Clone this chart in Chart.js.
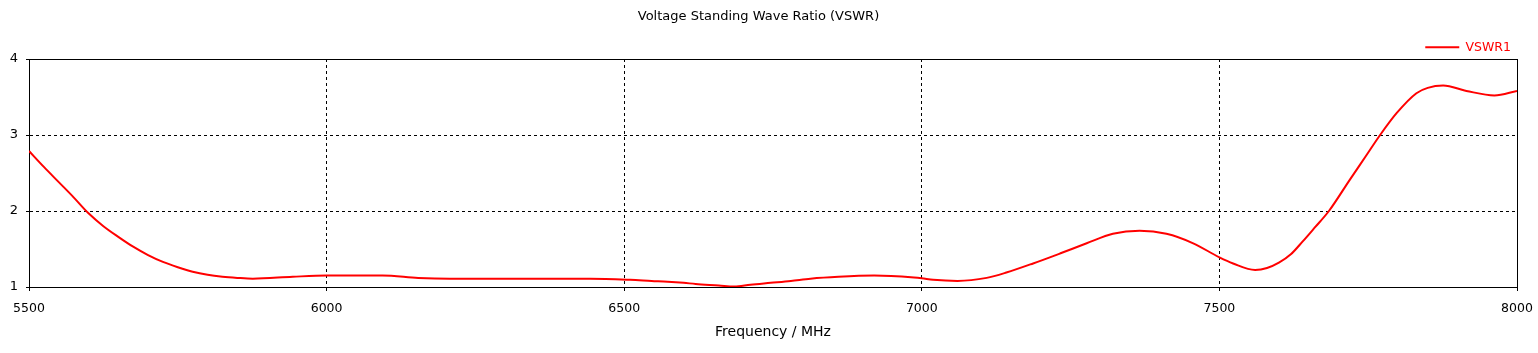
<!DOCTYPE html>
<html>
<head>
<meta charset="utf-8">
<script src="https://cdn.jsdelivr.net/npm/chart.js@4/dist/chart.umd.min.js"></script>
<style>
  html, body { margin: 0; padding: 0; background: #fff; }
  #wrap { width: 1538px; height: 353px; }
</style>
</head>
<body>
<div id="wrap"><canvas id="vswr"></canvas></div>
<script>
// frequency points (MHz)
const frequencies = [
  5500, 5525, 5550, 5575, 5600, 5625, 5650, 5675, 5700, 5725, 5750, 5775, 5800,
  5825, 5850, 5876, 5943, 6000, 6094, 6154, 6207, 6390, 6443, 6510, 6546, 6573,
  6600, 6620, 6659, 6685, 6712, 6746, 6780, 6813, 6860, 6920, 6987, 7000, 7019,
  7060, 7109, 7142, 7187, 7232, 7277, 7321, 7366, 7411, 7456, 7500, 7523, 7560,
  7580, 7600, 7620, 7640, 7660, 7684, 7719, 7745, 7770, 7798, 7831, 7850, 7876,
  7915, 7962, 8000
];
const vswr1 = [
  2.79, 2.58, 2.38, 2.18, 1.97, 1.80, 1.66, 1.53, 1.42, 1.33, 1.26, 1.20, 1.16,
  1.135, 1.12, 1.11, 1.135, 1.15, 1.15, 1.12, 1.11, 1.11, 1.11, 1.095, 1.08, 1.07,
  1.055, 1.04, 1.02, 1.005, 1.03, 1.055, 1.08, 1.11, 1.135, 1.15, 1.125, 1.115, 1.095,
  1.08, 1.12, 1.19, 1.31, 1.44, 1.575, 1.70, 1.74, 1.70, 1.575, 1.39, 1.31, 1.225,
  1.25, 1.32, 1.43, 1.60, 1.78, 2.00, 2.41, 2.71, 3.00, 3.29, 3.55, 3.62, 3.65,
  3.58, 3.52, 3.58
];
const xTicks = [5500, 6000, 6500, 7000, 7500, 8000];
const yTicks = [1, 2, 3, 4];

Chart.defaults.font.family = "'DejaVu Sans', sans-serif";
Chart.defaults.font.size = 12;
Chart.defaults.color = '#000';

// closed box round the plot area
const frame = {
  id: 'frame',
  beforeDatasetsDraw(chart) {
    const { ctx, chartArea: a } = chart;
    ctx.save();
    ctx.strokeStyle = '#000';
    ctx.lineWidth = 1;
    ctx.strokeRect(a.left + 0.5, a.top + 0.5, a.right - a.left, a.bottom - a.top);
    ctx.restore();
  }
};

const edgeColor = (min, max) => (c) =>
  (c.tick && (c.tick.value === min || c.tick.value === max)) ? 'rgba(0,0,0,0)' : '#000';

new Chart(document.getElementById('vswr'), {
  type: 'line',
  data: {
    datasets: [{
      label: 'VSWR1',
      data: frequencies.map((f, i) => ({ x: f, y: vswr1[i] })),
      borderColor: '#ff0000',
      backgroundColor: '#ff0000',
      borderWidth: 2,
      pointRadius: 0,
      cubicInterpolationMode: 'monotone',
      fill: false
    }]
  },
  options: {
    responsive: true,
    maintainAspectRatio: false,
    animation: false,
    layout: { padding: { left: 0, right: 21, top: 0, bottom: 0 } },
    plugins: {
      title: {
        display: true,
        text: 'Voltage Standing Wave Ratio (VSWR)',
        color: '#000',
        font: { weight: 'normal', size: 13 },
        padding: { top: 9, bottom: 10.4 }
      },
      legend: {
        display: true,
        position: 'top',
        align: 'end',
        maxHeight: 24,
        labels: {
          color: '#ff0000',
          font: { size: 12.5 },
          boxWidth: 34,
          boxHeight: 2,
          padding: 6,
          generateLabels: (chart) => chart.data.datasets.map((ds, i) => ({
            text: ds.label,
            fillStyle: ds.borderColor,
            strokeStyle: ds.borderColor,
            lineWidth: 0,
            fontColor: '#ff0000',
            hidden: false,
            datasetIndex: i
          }))
        }
      },
      tooltip: { enabled: false }
    },
    scales: {
      x: {
        type: 'linear',
        min: xTicks[0],
        max: xTicks[xTicks.length - 1],
        afterBuildTicks: (s) => { s.ticks = xTicks.map(v => ({ value: v })); },
        afterFit: (s) => { s.height = 66; s.paddingLeft = 0; s.paddingRight = 0; },
        grid: {
          color: edgeColor(5500, 8000),
          tickColor: '#000',
          tickLength: 4,
          tickBorderDash: []
        },
        border: { display: true, color: '#000', dash: [3, 3] },
        ticks: { padding: 10, color: '#000', font: { size: 12.5 }, maxRotation: 0, callback: (v) => String(v) },
        title: {
          display: true,
          text: 'Frequency / MHz',
          color: '#000',
          font: { size: 14 },
          padding: { top: 4, bottom: 12 }
        }
      },
      y: {
        min: yTicks[0],
        max: yTicks[yTicks.length - 1],
        afterBuildTicks: (s) => { s.ticks = yTicks.map(v => ({ value: v })); },
        afterFit: (s) => { s.width = 29; },
        grid: {
          color: edgeColor(1, 4),
          tickColor: '#000',
          tickLength: 3,
          tickBorderDash: []
        },
        border: { display: true, color: '#000', dash: [3, 3] },
        ticks: { padding: 8, color: '#000', font: { size: 13 }, callback: (v) => String(v) }
      }
    }
  },
  plugins: [frame]
});
</script>
</body>
</html>
